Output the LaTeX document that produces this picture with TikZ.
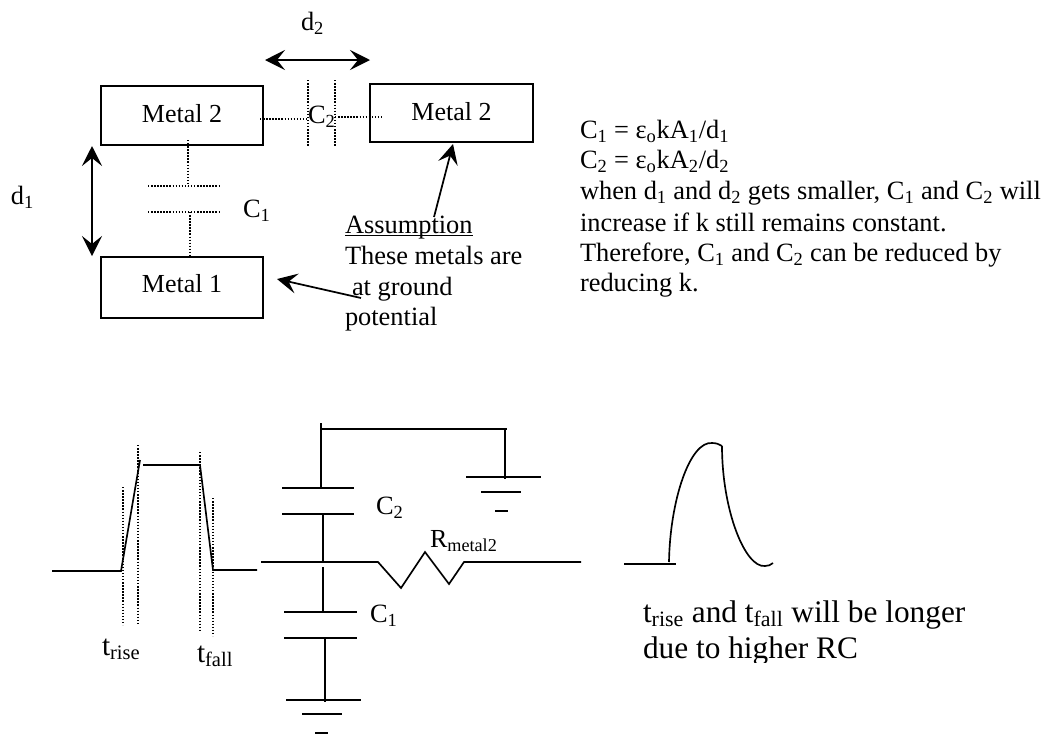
\documentclass[tikz,border=0pt]{standalone}
\usepackage{fontspec}
\setmainfont{Liberation Serif}
\usetikzlibrary{arrows.meta}
\tikzset{
  wire/.style={line width=1.25pt,black},
  box/.style={draw,line width=1.25pt,rectangle,inner sep=0pt,outer sep=0pt,font=\fontsize{19.5}{22}\selectfont},
  dot/.style={line width=1.2pt,dash pattern=on 1.1pt off 1.2pt},
  dbl/.style={line width=1.3pt,{Stealth[length=15pt,width=15pt,inset=6pt]}-{Stealth[length=15pt,width=15pt,inset=6pt]}},
  sgl/.style={line width=1.3pt,-{Stealth[length=15pt,width=15pt,inset=6pt]}},
  lab/.style={inner sep=0pt,outer sep=0pt,anchor=base west,font=\fontsize{19.8}{22}\selectfont},
  big/.style={inner sep=0pt,outer sep=0pt,anchor=base west,font=\fontsize{23.5}{26}\selectfont},
}
\begin{document}
\begin{tikzpicture}[x=0.75pt,y=-0.75pt]
\useasboundingbox (0,0) rectangle (1048,736);
% boxes
\node[box,minimum width=121.5pt,minimum height=44.25pt,text depth=2.5pt,anchor=north west] (m2l) at (101,86) {Metal 2};
\node[box,minimum width=122.25pt,minimum height=43.5pt,text depth=2.5pt,anchor=north west] (m2r) at (370,84) {Metal 2};
\node[box,minimum width=121.5pt,minimum height=45.75pt,text depth=6.5pt,anchor=north west] (m1) at (101,257) {Metal 1};
% arrows
\coordinate (d2a) at (265,60); \coordinate (d2b) at (370,60);
\draw[dbl] (d2a) -- (d2b);
\coordinate (d1a) at (92,146); \coordinate (d1b) at (92,256);
\draw[dbl] (d1a) -- (d1b);
\coordinate (a1) at (434,217);
\coordinate (a1e) at (453,144);
\draw[sgl] (a1) -- (a1e);
\coordinate (a2) at (361,298);
\coordinate (a2e) at (277,279);
\draw[sgl] (a2) -- (a2e);
% dotted C1
\coordinate (c1t) at (188,140); \coordinate (c1p) at (188,186);
\draw[dot] (c1t) -- (c1p);
\coordinate (c1a) at (148,186); \coordinate (c1b) at (220,186);
\draw[dot] (c1a) -- (c1b);
\coordinate (c1c) at (148,212); \coordinate (c1d) at (220,212);
\draw[dot] (c1c) -- (c1d);
\coordinate (c1q) at (190,212);
\draw[dot] (c1q) -- (m1.north -| c1q);
% dotted C2
\coordinate (c2a) at (260,119); \coordinate (c2b) at (308,119);
\draw[dot] (c2a) -- (c2b);
\coordinate (c2c) at (335,117); \coordinate (c2d) at (383,117);
\draw[dot] (c2c) -- (c2d);
\coordinate (c2e) at (308,80); \coordinate (c2f) at (308,147);
\draw[dot] (c2e) -- (c2f);
\coordinate (c2g) at (335,80); \coordinate (c2h) at (335,147);
\draw[dot] (c2g) -- (c2h);
% labels
\node[lab] (ld2) at (301,30) {d\textsubscript{2}};
\node[lab] (ld1) at (11,204) {d\textsubscript{1}};
\node[lab] (lc2) at (308,123) {C\textsubscript{2}};
\node[lab] (lc1) at (243,217) {C\textsubscript{1}};
\node[lab] (as) at (345,233) {\underline{\smash{Assumption}}};
\node[lab] (t1) at (345,264) {These metals are};
\node[lab] (t2) at (352,295) {at ground};
\node[lab] (t3) at (345,325) {potential};
% right note
\node[lab] (n1) at (580,138) {C\textsubscript{1} = ε\textsubscript{o}kA\textsubscript{1}/d\textsubscript{1}};
\node[lab] (n2) at (580,168) {C\textsubscript{2} = ε\textsubscript{o}kA\textsubscript{2}/d\textsubscript{2}};
\node[lab] (n3) at (580,199) {when d\textsubscript{1} and d\textsubscript{2} gets smaller, C\textsubscript{1} and C\textsubscript{2} will};
\node[lab] (n4) at (580,231) {increase if k still remains constant.};
\node[lab] (n5) at (580,261) {Therefore, C\textsubscript{1} and C\textsubscript{2} can be reduced by};
\node[lab] (n6) at (580,291) {reducing k.};
% input pulse
\coordinate (p0) at (52,571); \coordinate (p1) at (121,571); \coordinate (p2) at (140,460);
\coordinate (p3) at (143,465); \coordinate (p4) at (200,465); \coordinate (p5) at (213,570); \coordinate (p6) at (257,570);
\draw[wire] (p0) -- (p1) -- (p2);
\draw[wire] (p3) -- (p4) -- (p5) -- (p6);
\coordinate (q1) at (123,487); \coordinate (q1b) at (123,625);
\coordinate (q2) at (138,445); \coordinate (q2b) at (138,623);
\coordinate (q3) at (200,452); \coordinate (q3b) at (200,631);
\coordinate (q4) at (213,498); \coordinate (q4b) at (213,636);
\draw[dot] (q1) -- (q1b); \draw[dot] (q2) -- (q2b); \draw[dot] (q3) -- (q3b); \draw[dot] (q4) -- (q4b);
\node[big,font=\fontsize{22}{25}\selectfont] (tr) at (102,655) {t\textsubscript{rise}};
\node[big,font=\fontsize{22}{25}\selectfont] (tf) at (197,662) {t\textsubscript{fall}};
% circuit
\coordinate (w1) at (321,423); \coordinate (w2) at (321,488);
\coordinate (w3) at (321,429); \coordinate (w4) at (507,429); \coordinate (w5) at (505,479);
\draw[wire] (w1) -- (w2);
\draw[wire] (w3) -- (w4);
\draw[wire] (w4 -| w5) -- (w5);
\coordinate (c21) at (282,488); \coordinate (c22) at (354,488);
\coordinate (c23) at (282,514); \coordinate (c24) at (354,514);
\draw[wire] (c21) -- (c22); \draw[wire] (c23) -- (c24);
\coordinate (v1) at (323,514); \coordinate (v2) at (323,562);
\draw[wire] (v1) -- (v2);
\coordinate (l0) at (261,562); \coordinate (l1) at (378,562); \coordinate (l2) at (401,588);
\coordinate (l3) at (425,552); \coordinate (l4) at (449,584); \coordinate (l5) at (464,562); \coordinate (l6) at (581,562);
\draw[wire] (l0) -- (l1) -- (l2) -- (l3) -- (l4) -- (l5) -- (l6);
\coordinate (v3) at (323,567); \coordinate (v4) at (323,612);
\draw[wire] (v3) -- (v4);
\coordinate (c11) at (284,612); \coordinate (c12) at (357,612);
\coordinate (c13) at (284,638); \coordinate (c14) at (357,638);
\draw[wire] (c11) -- (c12); \draw[wire] (c13) -- (c14);
\coordinate (v5) at (325,638); \coordinate (v6) at (325,702);
\draw[wire] (v5) -- (v6);
\coordinate (g1) at (286,700); \coordinate (g2) at (361,700);
\coordinate (g3) at (302,714); \coordinate (g4) at (342,714);
\coordinate (g5) at (315,733); \coordinate (g6) at (328,733);
\draw[wire] (g1) -- (g2); \draw[wire] (g3) -- (g4); \draw[wire] (g5) -- (g6);
\coordinate (h1) at (466,477); \coordinate (h2) at (541,477);
\coordinate (h3) at (481,492); \coordinate (h4) at (521,492);
\coordinate (h5) at (495,511); \coordinate (h6) at (508,511);
\draw[wire] (h1) -- (h2); \draw[wire] (h3) -- (h4); \draw[wire] (h5) -- (h6);
\node[lab] (l2c) at (376,514) {C\textsubscript{2}};
\node[lab] (l1c) at (370,622) {C\textsubscript{1}};
\node[lab,font=\fontsize{19.5}{22}\selectfont] (lr) at (430,547) {R\textsubscript{metal2}};
% output
\coordinate (o0) at (624,564); \coordinate (o1) at (676,564);
\draw[wire] (o0) -- (o1);
\coordinate (s0) at (669,562); \coordinate (s1) at (722,446); \coordinate (s2) at (773,563);
\draw[wire] (s0) .. controls (670,500) and (690,441) .. (712,443) .. controls (716,443) and (719,444) .. (s1);
\draw[wire] (s1) .. controls (722,510) and (745,568) .. (765,566) .. controls (768,566) and (771,565) .. (s2);
\node[big] (b1) at (643,622) {t\textsubscript{rise} and t\textsubscript{fall} will be longer};
\begin{scope}
\clip (620,630) rectangle (1000,662);
\node[big] (b2) at (643,658) {due to higher RC};
\end{scope}
\end{tikzpicture}
\end{document}
